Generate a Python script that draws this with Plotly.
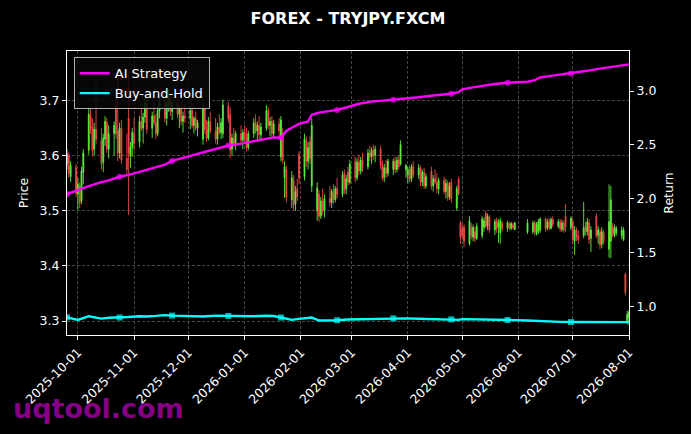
import pandas as pd
import plotly.graph_objects as go

# ---------------- data ----------------
# daily candles (FXCM daily bars, stamped Tue..Sat); no bars 2026-06-02..06-05
candle_dates = pd.bdate_range("2025-09-24", "2026-07-31") + pd.Timedelta(days=1)
candle_dates = candle_dates[~((candle_dates >= "2026-06-02") & (candle_dates <= "2026-06-05"))]

price_open = [
    3.585, 3.600, 3.562,
    3.578, 3.530, 3.545, 3.518, 3.570,
    3.610, 3.672, 3.652, 3.612, 3.648,
    3.628, 3.588, 3.630, 3.660, 3.612,
    3.640, 3.690, 3.645, 3.605, 3.650,
    3.595, 3.668, 3.600, 3.615, 3.640,
    3.625, 3.662, 3.650, 3.670, 3.695,
    3.650, 3.672, 3.660, 3.640, 3.682,
    3.695, 3.668, 3.692, 3.705, 3.680,
    3.695, 3.675, 3.685, 3.662, 3.672,
    3.668, 3.682, 3.655, 3.668, 3.650,
    3.630, 3.685, 3.648, 3.632, 3.662,
    3.645, 3.630, 3.652, 3.642, 3.640,
    3.690, 3.675, 3.612, 3.632, 3.622,
    3.640, 3.628, 3.642, 3.632, 3.615,
    3.640, 3.660, 3.645, 3.655, 3.638,
    3.650, 3.682, 3.655, 3.662, 3.640,
    3.658, 3.598, 3.640, 3.560, 3.575,
    3.520, 3.555, 3.512, 3.540, 3.602,
    3.562, 3.628, 3.590, 3.625, 3.545,
    3.500, 3.530, 3.490, 3.518, 3.500,
    3.522, 3.515, 3.535, 3.520, 3.540,
    3.530, 3.568, 3.540, 3.570, 3.552,
    3.590, 3.560, 3.588, 3.572, 3.592,
    3.580, 3.605, 3.598, 3.610, 3.600,
    3.612, 3.582, 3.560, 3.578, 3.568,
    3.575, 3.590, 3.575, 3.592, 3.585,
    3.575, 3.565, 3.575, 3.558, 3.580,
    3.565, 3.578, 3.552, 3.570, 3.545,
    3.572, 3.545, 3.558, 3.552, 3.540,
    3.555, 3.535, 3.550, 3.525, 3.552,
    3.505, 3.558, 3.478, 3.468, 3.470,
    3.440, 3.470, 3.452, 3.462, 3.450,
    3.455, 3.470, 3.495, 3.472, 3.488,
    3.465, 3.482, 3.470, 3.460, 3.478,
    3.468, 3.476, 3.468, 3.474, 3.466,
    3.462,
    3.462, 3.478, 3.458, 3.462, 3.465,
    3.485, 3.468, 3.480, 3.468, 3.484,
    3.472, 3.480, 3.466, 3.478, 3.490,
    3.470, 3.480, 3.445, 3.465, 3.455,
    3.455, 3.470, 3.462, 3.478, 3.450,
    3.490, 3.455, 3.462, 3.440, 3.460,
    3.430, 3.445, 3.470, 3.455, 3.460,
    3.455, 3.448, 3.385, 3.300, 3.305,
]
price_high = [
    3.612, 3.606, 3.590,
    3.585, 3.560, 3.552, 3.580, 3.612,
    3.688, 3.685, 3.668, 3.660, 3.735,
    3.650, 3.640, 3.672, 3.668, 3.655,
    3.662, 3.705, 3.760, 3.660, 3.665,
    3.640, 3.752, 3.625, 3.650, 3.668,
    3.672, 3.690, 3.678, 3.705, 3.712,
    3.680, 3.698, 3.675, 3.690, 3.705,
    3.712, 3.700, 3.720, 3.712, 3.700,
    3.705, 3.690, 3.698, 3.680, 3.692,
    3.690, 3.695, 3.672, 3.680, 3.665,
    3.695, 3.690, 3.665, 3.670, 3.680,
    3.668, 3.660, 3.675, 3.668, 3.702,
    3.698, 3.688, 3.640, 3.650, 3.645,
    3.655, 3.648, 3.655, 3.650, 3.645,
    3.668, 3.675, 3.662, 3.672, 3.660,
    3.692, 3.688, 3.670, 3.672, 3.665,
    3.668, 3.672, 3.650, 3.590, 3.582,
    3.572, 3.565, 3.545, 3.558, 3.608,
    3.640, 3.635, 3.625, 3.635, 3.668,
    3.552, 3.538, 3.525, 3.540, 3.530,
    3.545, 3.540, 3.548, 3.545, 3.560,
    3.572, 3.575, 3.565, 3.580, 3.592,
    3.598, 3.595, 3.602, 3.598, 3.605,
    3.612, 3.618, 3.615, 3.620, 3.618,
    3.618, 3.590, 3.585, 3.592, 3.595,
    3.595, 3.598, 3.598, 3.600, 3.628,
    3.585, 3.580, 3.582, 3.585, 3.590,
    3.585, 3.582, 3.575, 3.578, 3.568,
    3.580, 3.565, 3.575, 3.568, 3.560,
    3.562, 3.558, 3.555, 3.552, 3.558,
    3.545, 3.562, 3.482, 3.478, 3.475,
    3.490, 3.478, 3.475, 3.470, 3.478,
    3.490, 3.488, 3.500, 3.495, 3.492,
    3.485, 3.488, 3.485, 3.487, 3.482,
    3.482, 3.480, 3.480, 3.478, 3.480,
    3.485,
    3.482, 3.482, 3.480, 3.485, 3.488,
    3.488, 3.485, 3.487, 3.488, 3.490,
    3.485, 3.485, 3.484, 3.482, 3.512,
    3.490, 3.485, 3.472, 3.470, 3.465,
    3.516, 3.480, 3.487, 3.485, 3.472,
    3.495, 3.472, 3.468, 3.470, 3.465,
    3.548, 3.545, 3.478, 3.475, 3.472,
    3.472, 3.470, 3.388, 3.318, 3.320,
]
price_low = [
    3.575, 3.560, 3.552,
    3.525, 3.502, 3.505, 3.512, 3.548,
    3.602, 3.640, 3.598, 3.600, 3.620,
    3.575, 3.570, 3.618, 3.605, 3.595,
    3.600, 3.630, 3.590, 3.595, 3.585,
    3.565, 3.492, 3.578, 3.598, 3.610,
    3.615, 3.645, 3.622, 3.660, 3.640,
    3.632, 3.655, 3.630, 3.635, 3.668,
    3.660, 3.655, 3.680, 3.672, 3.665,
    3.668, 3.650, 3.655, 3.642, 3.660,
    3.648, 3.650, 3.640, 3.645, 3.635,
    3.620, 3.640, 3.625, 3.628, 3.640,
    3.622, 3.620, 3.638, 3.630, 3.632,
    3.660, 3.596, 3.600, 3.615, 3.610,
    3.620, 3.612, 3.625, 3.608, 3.610,
    3.632, 3.640, 3.625, 3.630, 3.628,
    3.645, 3.648, 3.635, 3.632, 3.630,
    3.635, 3.590, 3.585, 3.523, 3.515,
    3.505, 3.502, 3.500, 3.518, 3.548,
    3.555, 3.580, 3.575, 3.585, 3.534,
    3.482, 3.480, 3.485, 3.492, 3.488,
    3.508, 3.505, 3.512, 3.515, 3.522,
    3.525, 3.530, 3.530, 3.545, 3.548,
    3.552, 3.555, 3.565, 3.566, 3.570,
    3.575, 3.590, 3.585, 3.592, 3.588,
    3.575, 3.555, 3.552, 3.560, 3.562,
    3.565, 3.568, 3.570, 3.575, 3.582,
    3.560, 3.550, 3.552, 3.552, 3.560,
    3.558, 3.545, 3.545, 3.540, 3.540,
    3.538, 3.535, 3.548, 3.532, 3.530,
    3.530, 3.522, 3.518, 3.520, 3.515,
    3.500, 3.528, 3.440, 3.448, 3.434,
    3.437, 3.448, 3.445, 3.443, 3.447,
    3.450, 3.462, 3.468, 3.465, 3.460,
    3.456, 3.460, 3.442, 3.440, 3.462,
    3.462, 3.465, 3.465, 3.466, 3.465,
    3.458,
    3.458, 3.455, 3.455, 3.458, 3.460,
    3.462, 3.465, 3.465, 3.466, 3.470,
    3.468, 3.462, 3.462, 3.460, 3.462,
    3.465, 3.440, 3.420, 3.445, 3.440,
    3.450, 3.455, 3.455, 3.440, 3.425,
    3.450, 3.440, 3.430, 3.432, 3.438,
    3.415, 3.414, 3.452, 3.452, 3.455,
    3.448, 3.445, 3.346, 3.294, 3.292,
]
price_close = [
    3.603, 3.568, 3.582,
    3.532, 3.548, 3.515, 3.572, 3.605,
    3.675, 3.650, 3.610, 3.648, 3.630,
    3.585, 3.632, 3.662, 3.612, 3.640,
    3.655, 3.640, 3.605, 3.650, 3.592,
    3.575, 3.605, 3.615, 3.642, 3.622,
    3.662, 3.650, 3.670, 3.695, 3.648,
    3.672, 3.660, 3.640, 3.682, 3.695,
    3.668, 3.692, 3.705, 3.680, 3.695,
    3.675, 3.685, 3.662, 3.672, 3.668,
    3.682, 3.655, 3.668, 3.650, 3.660,
    3.685, 3.648, 3.632, 3.662, 3.645,
    3.630, 3.652, 3.642, 3.660, 3.692,
    3.668, 3.610, 3.632, 3.622, 3.640,
    3.628, 3.642, 3.632, 3.615, 3.640,
    3.660, 3.645, 3.655, 3.638, 3.652,
    3.682, 3.655, 3.662, 3.640, 3.658,
    3.645, 3.665, 3.592, 3.580, 3.525,
    3.560, 3.510, 3.535, 3.525, 3.560,
    3.630, 3.590, 3.615, 3.595, 3.655,
    3.542, 3.490, 3.518, 3.500, 3.522,
    3.515, 3.535, 3.520, 3.540, 3.530,
    3.565, 3.538, 3.558, 3.552, 3.585,
    3.560, 3.588, 3.572, 3.592, 3.578,
    3.605, 3.598, 3.610, 3.600, 3.612,
    3.582, 3.560, 3.578, 3.568, 3.590,
    3.590, 3.575, 3.592, 3.580, 3.620,
    3.582, 3.575, 3.558, 3.580, 3.565,
    3.578, 3.552, 3.570, 3.545, 3.562,
    3.545, 3.558, 3.552, 3.540, 3.555,
    3.535, 3.550, 3.525, 3.545, 3.522,
    3.540, 3.532, 3.452, 3.455, 3.445,
    3.482, 3.455, 3.470, 3.450, 3.472,
    3.485, 3.482, 3.472, 3.490, 3.465,
    3.480, 3.468, 3.478, 3.482, 3.468,
    3.478, 3.470, 3.477, 3.470, 3.478,
    3.478,
    3.478, 3.462, 3.475, 3.480, 3.485,
    3.468, 3.480, 3.470, 3.484, 3.475,
    3.480, 3.468, 3.478, 3.465, 3.470,
    3.486, 3.448, 3.465, 3.452, 3.448,
    3.470, 3.462, 3.480, 3.448, 3.465,
    3.455, 3.465, 3.438, 3.462, 3.445,
    3.480, 3.520, 3.458, 3.470, 3.468,
    3.465, 3.465, 3.352, 3.312, 3.316,
]

# cumulative return curves (right axis)
line_dates = [
    "2025-09-25", "2025-10-01", "2025-10-07", "2025-10-14", "2025-10-18", "2025-10-24",
    "2025-10-29", "2025-11-04", "2025-11-08", "2025-11-13", "2025-11-18", "2025-11-22",
    "2025-11-27", "2025-12-03", "2025-12-09", "2025-12-16", "2025-12-23", "2025-12-30",
    "2026-01-06", "2026-01-13", "2026-01-17", "2026-01-21", "2026-01-24", "2026-01-27",
    "2026-01-31", "2026-02-05", "2026-02-07", "2026-02-11", "2026-02-17", "2026-02-21",
    "2026-02-27", "2026-03-05", "2026-03-12", "2026-03-18", "2026-03-24", "2026-03-31",
    "2026-04-07", "2026-04-15", "2026-04-21", "2026-04-25", "2026-04-29", "2026-05-01",
    "2026-05-06", "2026-05-12", "2026-05-19", "2026-05-26", "2026-05-30", "2026-06-06",
    "2026-06-10", "2026-06-13", "2026-06-19", "2026-06-24", "2026-06-30", "2026-07-08",
    "2026-07-15", "2026-07-22", "2026-07-28", "2026-08-01",
]
ai_return = [
    2.045, 2.085, 2.118, 2.155, 2.172, 2.205, 2.222, 2.250, 2.268, 2.292,
    2.318, 2.352, 2.375, 2.408, 2.435, 2.465, 2.495, 2.512, 2.532, 2.555,
    2.570, 2.567, 2.630, 2.660, 2.695, 2.718, 2.780, 2.800, 2.815, 2.825,
    2.852, 2.882, 2.902, 2.910, 2.918, 2.930, 2.942, 2.958, 2.968, 2.975,
    2.990, 3.015, 3.032, 3.048, 3.065, 3.077, 3.082, 3.086, 3.100, 3.125,
    3.140, 3.150, 3.163, 3.185, 3.205, 3.225, 3.238, 3.247,
]
bh_return = [
    0.902, 0.878, 0.912, 0.890, 0.898, 0.900, 0.905, 0.912, 0.910, 0.915,
    0.922, 0.918, 0.915, 0.908, 0.910, 0.918, 0.915, 0.910, 0.912, 0.916,
    0.914, 0.900, 0.890, 0.878, 0.888, 0.895, 0.900, 0.872, 0.872, 0.875,
    0.882, 0.885, 0.888, 0.890, 0.892, 0.892, 0.888, 0.886, 0.884, 0.883,
    0.878, 0.885, 0.884, 0.885, 0.882, 0.877, 0.876, 0.872, 0.868, 0.865,
    0.862, 0.860, 0.858, 0.858, 0.858, 0.857, 0.857, 0.857,
]
marker_dates = [
    "2025-09-25", "2025-10-24", "2025-11-22", "2025-12-23", "2026-01-21",
    "2026-02-21", "2026-03-24", "2026-04-25", "2026-05-26", "2026-06-30",
]

# ---------------- styling ----------------
FONT = "DejaVu Sans"
UP = "#5cf03c"
DOWN = "#f04848"
GRID = "#454545"
marker_sizes = [6 if d in marker_dates else 0 for d in line_dates]

fig = go.Figure()
fig.add_trace(go.Candlestick(
    x=candle_dates, open=price_open, high=price_high, low=price_low, close=price_close,
    increasing=dict(line=dict(color=UP, width=0.9), fillcolor=UP),
    decreasing=dict(line=dict(color=DOWN, width=0.9), fillcolor=DOWN),
    whiskerwidth=0, showlegend=False, hoverinfo="skip", yaxis="y",
))
fig.add_trace(go.Scatter(
    x=line_dates, y=ai_return, name="AI Strategy", mode="lines+markers", yaxis="y2",
    line=dict(color="#ff00ff", width=2.4),
    marker=dict(symbol="circle", size=marker_sizes, color="#ff00ff", line=dict(width=0)),
    hoverinfo="skip",
))
fig.add_trace(go.Scatter(
    x=line_dates, y=bh_return, name="Buy-and-Hold", mode="lines+markers", yaxis="y2",
    line=dict(color="#00ffff", width=2.4),
    marker=dict(symbol="square", size=marker_sizes, color="#00ffff", line=dict(width=0)),
    hoverinfo="skip",
))

axis_common = dict(
    showline=True, linecolor="white", linewidth=1.2,
    ticks="outside", ticklen=4, tickwidth=1, tickcolor="white",
    tickfont=dict(family=FONT, size=12.5, color="white"),
    zeroline=False, automargin=False,
)

fig.update_layout(
    width=691, height=434,
    paper_bgcolor="black", plot_bgcolor="black",
    margin=dict(l=67, r=62, t=51, b=99, autoexpand=False),
    font=dict(family=FONT, color="white", size=12.5),
    title=dict(text="<b>FOREX - TRYJPY.FXCM</b>", x=0.5, xref="paper", xanchor="center",
               y=1 - 18 / 434, yanchor="middle", yref="container",
               font=dict(family=FONT, size=16, color="white")),
    xaxis=dict(
        type="date", range=["2025-09-25", "2026-08-01"],
        tick0="2025-10-01", dtick="M1", tickformat="%Y-%m-%d", tickangle=-45,
        showgrid=True, gridcolor=GRID, gridwidth=0.6, griddash="3px,2px",
        mirror=True, rangeslider=dict(visible=False),
        **axis_common,
    ),
    yaxis=dict(
        range=[3.2746, 3.790], tick0=3.3, dtick=0.1, tickformat=".1f",
        showgrid=True, gridcolor=GRID, gridwidth=0.6, griddash="3px,2px",
        mirror=True,
        title=dict(text="Price", font=dict(family=FONT, size=12.5, color="white"), standoff=8),
        **axis_common,
    ),
    yaxis2=dict(
        range=[0.738, 3.371], tick0=1.0, dtick=0.5, tickformat=".1f",
        overlaying="y", side="right", showgrid=False,
        title=dict(text="Return", font=dict(family=FONT, size=12.5, color="white"), standoff=8),
        **axis_common,
    ),
    legend=dict(
        x=0.012, y=0.978, xanchor="left", yanchor="top",
        bgcolor="rgba(8,8,8,0.85)", bordercolor="#b0b0b0", borderwidth=1,
        font=dict(family=FONT, size=13, color="white"), itemwidth=30,
    ),
    showlegend=True,
    hovermode=False,
    annotations=[dict(
        text="<b>uqtool.com</b>", xref="paper", yref="paper",
        x=(11 - 67) / 562, y=(335 - 409) / 284, xanchor="left", yanchor="middle",
        showarrow=False, font=dict(family=FONT, size=27, color="#850085"),
    )],
)

fig.write_html(
    "out.html",
    config={"displayModeBar": False},
    post_script="document.body.style.margin='0';document.body.style.background='black';",
)
